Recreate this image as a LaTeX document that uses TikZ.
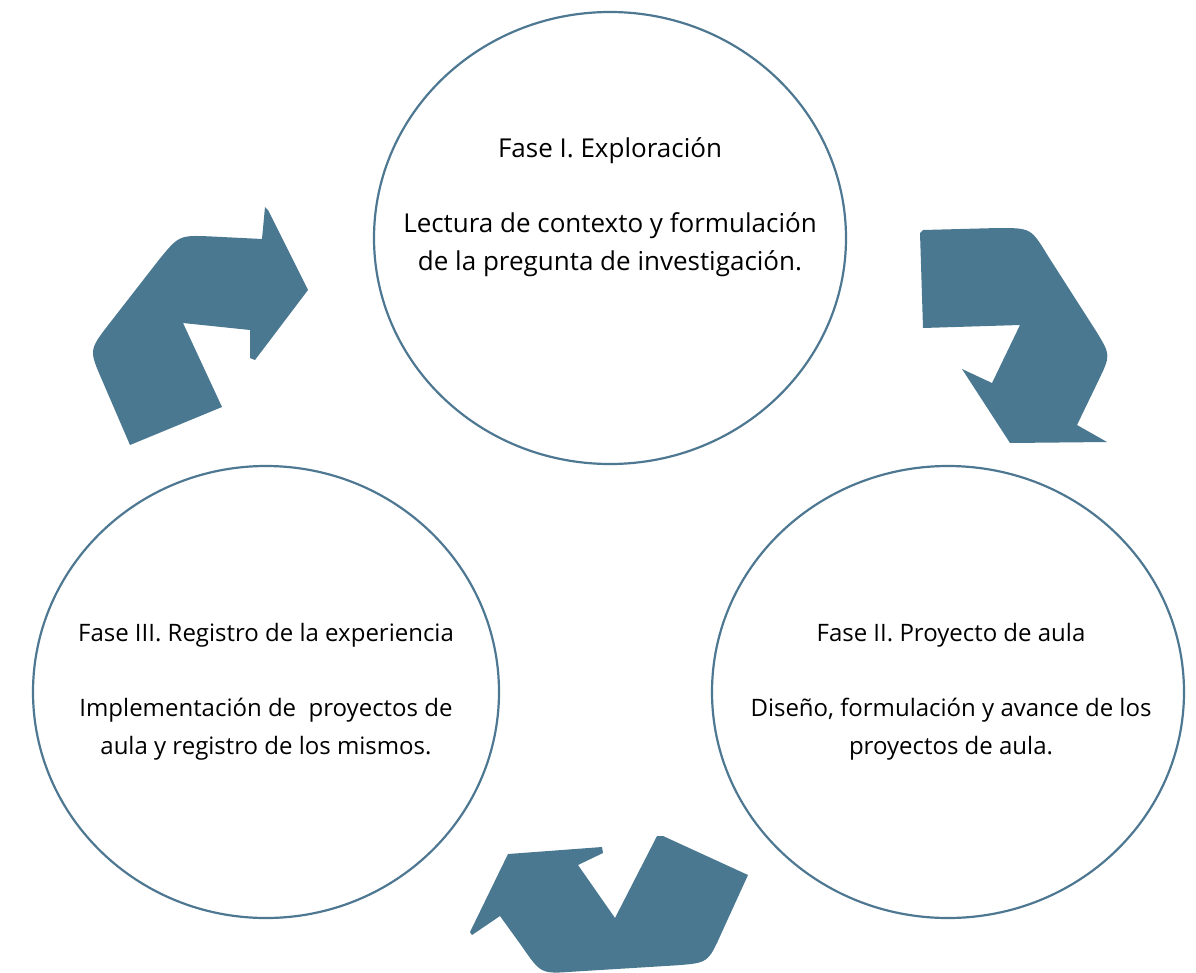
\documentclass[tikz,border=0pt]{standalone}
\usepackage{fontspec}
\setmainfont{Open Sans}
\usetikzlibrary{shapes.geometric, positioning}
\definecolor{azul}{HTML}{4A7891}
\definecolor{borde}{HTML}{4E7892}

\begin{document}
\begin{tikzpicture}[x=1pt,y=-1pt,
  fase/.style={ellipse,draw=borde,line width=2.2pt,inner sep=0pt},
  texto/.style={align=center,inner sep=0pt,font=\fontsize{24}{37.5}\selectfont},
  flecha/.style={fill=azul}]
  \useasboundingbox (0,0) rectangle (1196,972);
  % circulos de las fases
  \node[fase, minimum width=472pt, minimum height=452pt] (fase1) at (610,238) {};
  \node[fase, minimum width=466pt, minimum height=452pt] (fase3) at (266,692) {};
  \node[fase, minimum width=472pt, minimum height=452pt] (fase2) at (948,692) {};
  \node[texto, font=\fontsize{26}{37.5}\selectfont] (t1) at ([yshift=31pt]fase1.center) {Fase I. Exploración\\ \\Lectura de contexto y formulación\\de la pregunta de investigación.};
  \node[texto] (t3) at ([yshift=0pt]fase3.center) {Fase III. Registro de la experiencia\\ \\Implementación de \ proyectos de\\aula y registro de los mismos.};
  \node[texto] (t2) at ([xshift=3pt]fase2.center) {Fase II. Proyecto de aula\\ \\Diseño, formulación y avance de los\\proyectos de aula.};
  % flechas curvas
  \fill[flecha] (130,445) -- (222,407) -- (183,323) -- (250,330) -- (250,358) -- (255,360)
    -- (308,290) -- (268,210) -- (265,207) -- (262,239) -- (212,236.5)
    .. controls (179,235) .. (158,261) -- (109,324) .. controls (89,350) .. (102,380) -- cycle;
  \fill[flecha] (923,230) -- (920,233) -- (923,328) -- (1020,325) -- (992,383) -- (962,369)
    -- (1010,443) -- (1107,442) -- (1077,425) -- (1098.5,380.5) .. controls (1110.7,355) .. (1096,331)
    -- (1048,256) .. controls (1031,228) .. (998,228) -- cycle;
  \fill[flecha] (657,836) -- (663,836) -- (748,875) -- (721.5,933) .. controls (708,963) .. (675,965.4)
    -- (574,971.6) .. controls (541,974) .. (522,946.5) -- (500,916) -- (472,935) -- (470,932)
    -- (508,854) -- (602,847) -- (603,853) -- (578,865) -- (615,918) -- cycle;
\end{tikzpicture}
\end{document}
